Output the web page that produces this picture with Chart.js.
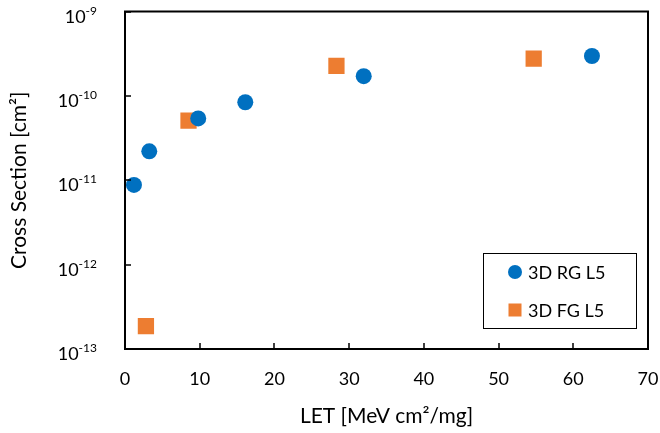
<!DOCTYPE html>
<html>
<head>
<meta charset="utf-8">
<script src="https://cdn.jsdelivr.net/npm/chart.js@4"></script>
<style>
  html, body { margin: 0; padding: 0; background: #ffffff; }
  #wrap { width: 660px; height: 433px; }
</style>
</head>
<body>
<div id="wrap"><canvas id="xs-chart" width="660" height="433"></canvas></div>
<script>
// LET values (x) and cross sections (y)
const letRG = [1.2, 3.25, 9.8, 16.1, 31.95, 62.5];
const crossRG = [8.8e-12, 2.2e-11, 5.4e-11, 8.4e-11, 1.71e-10, 2.97e-10];
const letFG = [2.8, 8.5, 28.3, 54.7];
const crossFG = [1.87e-13, 5.1e-11, 2.27e-10, 2.76e-10];

const seriesNames = ["3D RG L5", "3D FG L5"];
const xTickValues = [0, 10, 20, 30, 40, 50, 60, 70];
const yTickValues = [1e-13, 1e-12, 1e-11, 1e-10, 1e-9];

const FONT = "Lato, 'Open Sans', sans-serif";

function toPoints(xs, ys) {
  return xs.map((x, i) => ({ x: x, y: ys[i] }));
}

// frame, inward ticks, power-of-ten labels and the boxed legend
const framePlugin = {
  id: "frame",
  afterDraw(chart) {
    const ctx = chart.ctx;
    const a = chart.chartArea;
    const xs = chart.scales.x;
    const ys = chart.scales.y;
    ctx.save();
    ctx.strokeStyle = "#000000";
    ctx.lineWidth = 2;
    ctx.strokeRect(a.left, a.top, a.right - a.left, a.bottom - a.top);

    ctx.beginPath();
    for (const v of xTickValues) {
      const px = Math.round(xs.getPixelForValue(v));
      ctx.moveTo(px, a.bottom);
      ctx.lineTo(px, a.bottom - 6);
    }
    for (const v of yTickValues) {
      const py = Math.round(ys.getPixelForValue(v));
      ctx.moveTo(a.left, py);
      ctx.lineTo(a.left + 6, py);
    }
    ctx.lineWidth = 1.5;
    ctx.stroke();

    // y tick labels as 10 with a raised exponent
    ctx.fillStyle = "#000000";
    ctx.textAlign = "left";
    ctx.textBaseline = "alphabetic";
    const labelRight = a.left - 28;
    for (const v of yTickValues) {
      const py = ys.getPixelForValue(v);
      const exp = String(Math.round(Math.log10(v)));
      ctx.font = "12px " + FONT;
      const ew = ctx.measureText(exp).width;
      ctx.font = "18px " + FONT;
      const bw = ctx.measureText("10").width;
      const x0 = labelRight - ew - bw;
      ctx.fillText("10", x0, py + 11);
      ctx.font = "12px " + FONT;
      ctx.fillText(exp, x0 + bw, py + 3);
    }

    // legend box
    const bx = 483, by = 253, bw = 153, bh = 75;
    ctx.fillStyle = "#ffffff";
    ctx.fillRect(bx, by, bw, bh);
    ctx.lineWidth = 1;
    ctx.strokeStyle = "#000000";
    ctx.strokeRect(bx + 0.5, by + 0.5, bw, bh);

    ctx.font = "18px " + FONT;
    ctx.textBaseline = "middle";
    ctx.textAlign = "left";
    chart.data.datasets.forEach((ds, i) => {
      const cy = by + 19 + i * 38;
      const cx = 515;
      ctx.fillStyle = ds.backgroundColor;
      if (ds.pointStyle === "rect") {
        ctx.fillRect(cx - 6.5, cy - 6.5, 13, 13);
      } else {
        ctx.beginPath();
        ctx.arc(cx, cy, 7, 0, Math.PI * 2);
        ctx.fill();
      }
      ctx.fillStyle = "#000000";
      ctx.fillText(ds.label, 528, cy + 1);
    });
    ctx.restore();
  }
};

const ctx = document.getElementById("xs-chart").getContext("2d");

new Chart(ctx, {
  type: "scatter",
  plugins: [framePlugin],
  data: {
    datasets: [
      {
        label: seriesNames[0],
        data: toPoints(letRG, crossRG),
        pointStyle: "circle",
        pointRadius: 8,
        pointHoverRadius: 8,
        backgroundColor: "#0070C0",
        borderColor: "#0070C0",
        borderWidth: 0,
      },
      {
        label: seriesNames[1],
        data: toPoints(letFG, crossFG),
        pointStyle: "rect",
        pointRadius: 11.5,
        pointHoverRadius: 11.5,
        backgroundColor: "#ED7D31",
        borderColor: "#ED7D31",
        borderWidth: 0,
      },
    ],
  },
  options: {
    responsive: false,
    animation: false,
    layout: {
      padding: { left: 0, right: 12, top: 7, bottom: 0 },
    },
    scales: {
      x: {
        type: "linear",
        min: 0,
        max: 70,
        grid: { display: false, drawTicks: false },
        border: { display: false },
        afterBuildTicks: function(scale) {
          scale.ticks = xTickValues.map(v => ({ value: v }));
        },
        afterFit: function(scale) {
          scale.height = 84;
          scale.paddingLeft = 0;
          scale.paddingRight = 0;
        },
        ticks: {
          padding: 19,
          maxRotation: 0,
          color: "#000000",
          font: { family: FONT, size: 18 },
        },
        title: {
          display: true,
          text: "LET [MeV cm\u00B2/mg]",
          color: "#000000",
          font: { family: FONT, size: 21 },
          padding: { top: 0, bottom: 4 },
        },
      },
      y: {
        type: "logarithmic",
        min: 1e-13,
        max: 1e-9,
        grid: { display: false, drawTicks: false },
        border: { display: false },
        afterBuildTicks: function(scale) {
          scale.ticks = yTickValues.map(v => ({ value: v }));
        },
        afterFit: function(scale) {
          scale.width = 125;
          scale.paddingTop = 0;
          scale.paddingBottom = 0;
        },
        ticks: {
          display: false,
        },
        title: {
          display: true,
          text: "Cross Section [cm\u00B2]",
          color: "#000000",
          font: { family: FONT, size: 21 },
          padding: { top: 7, bottom: 0 },
        },
      },
    },
    plugins: {
      legend: { display: false },
      tooltip: { enabled: false },
    },
  },
});
</script>
</body>
</html>
